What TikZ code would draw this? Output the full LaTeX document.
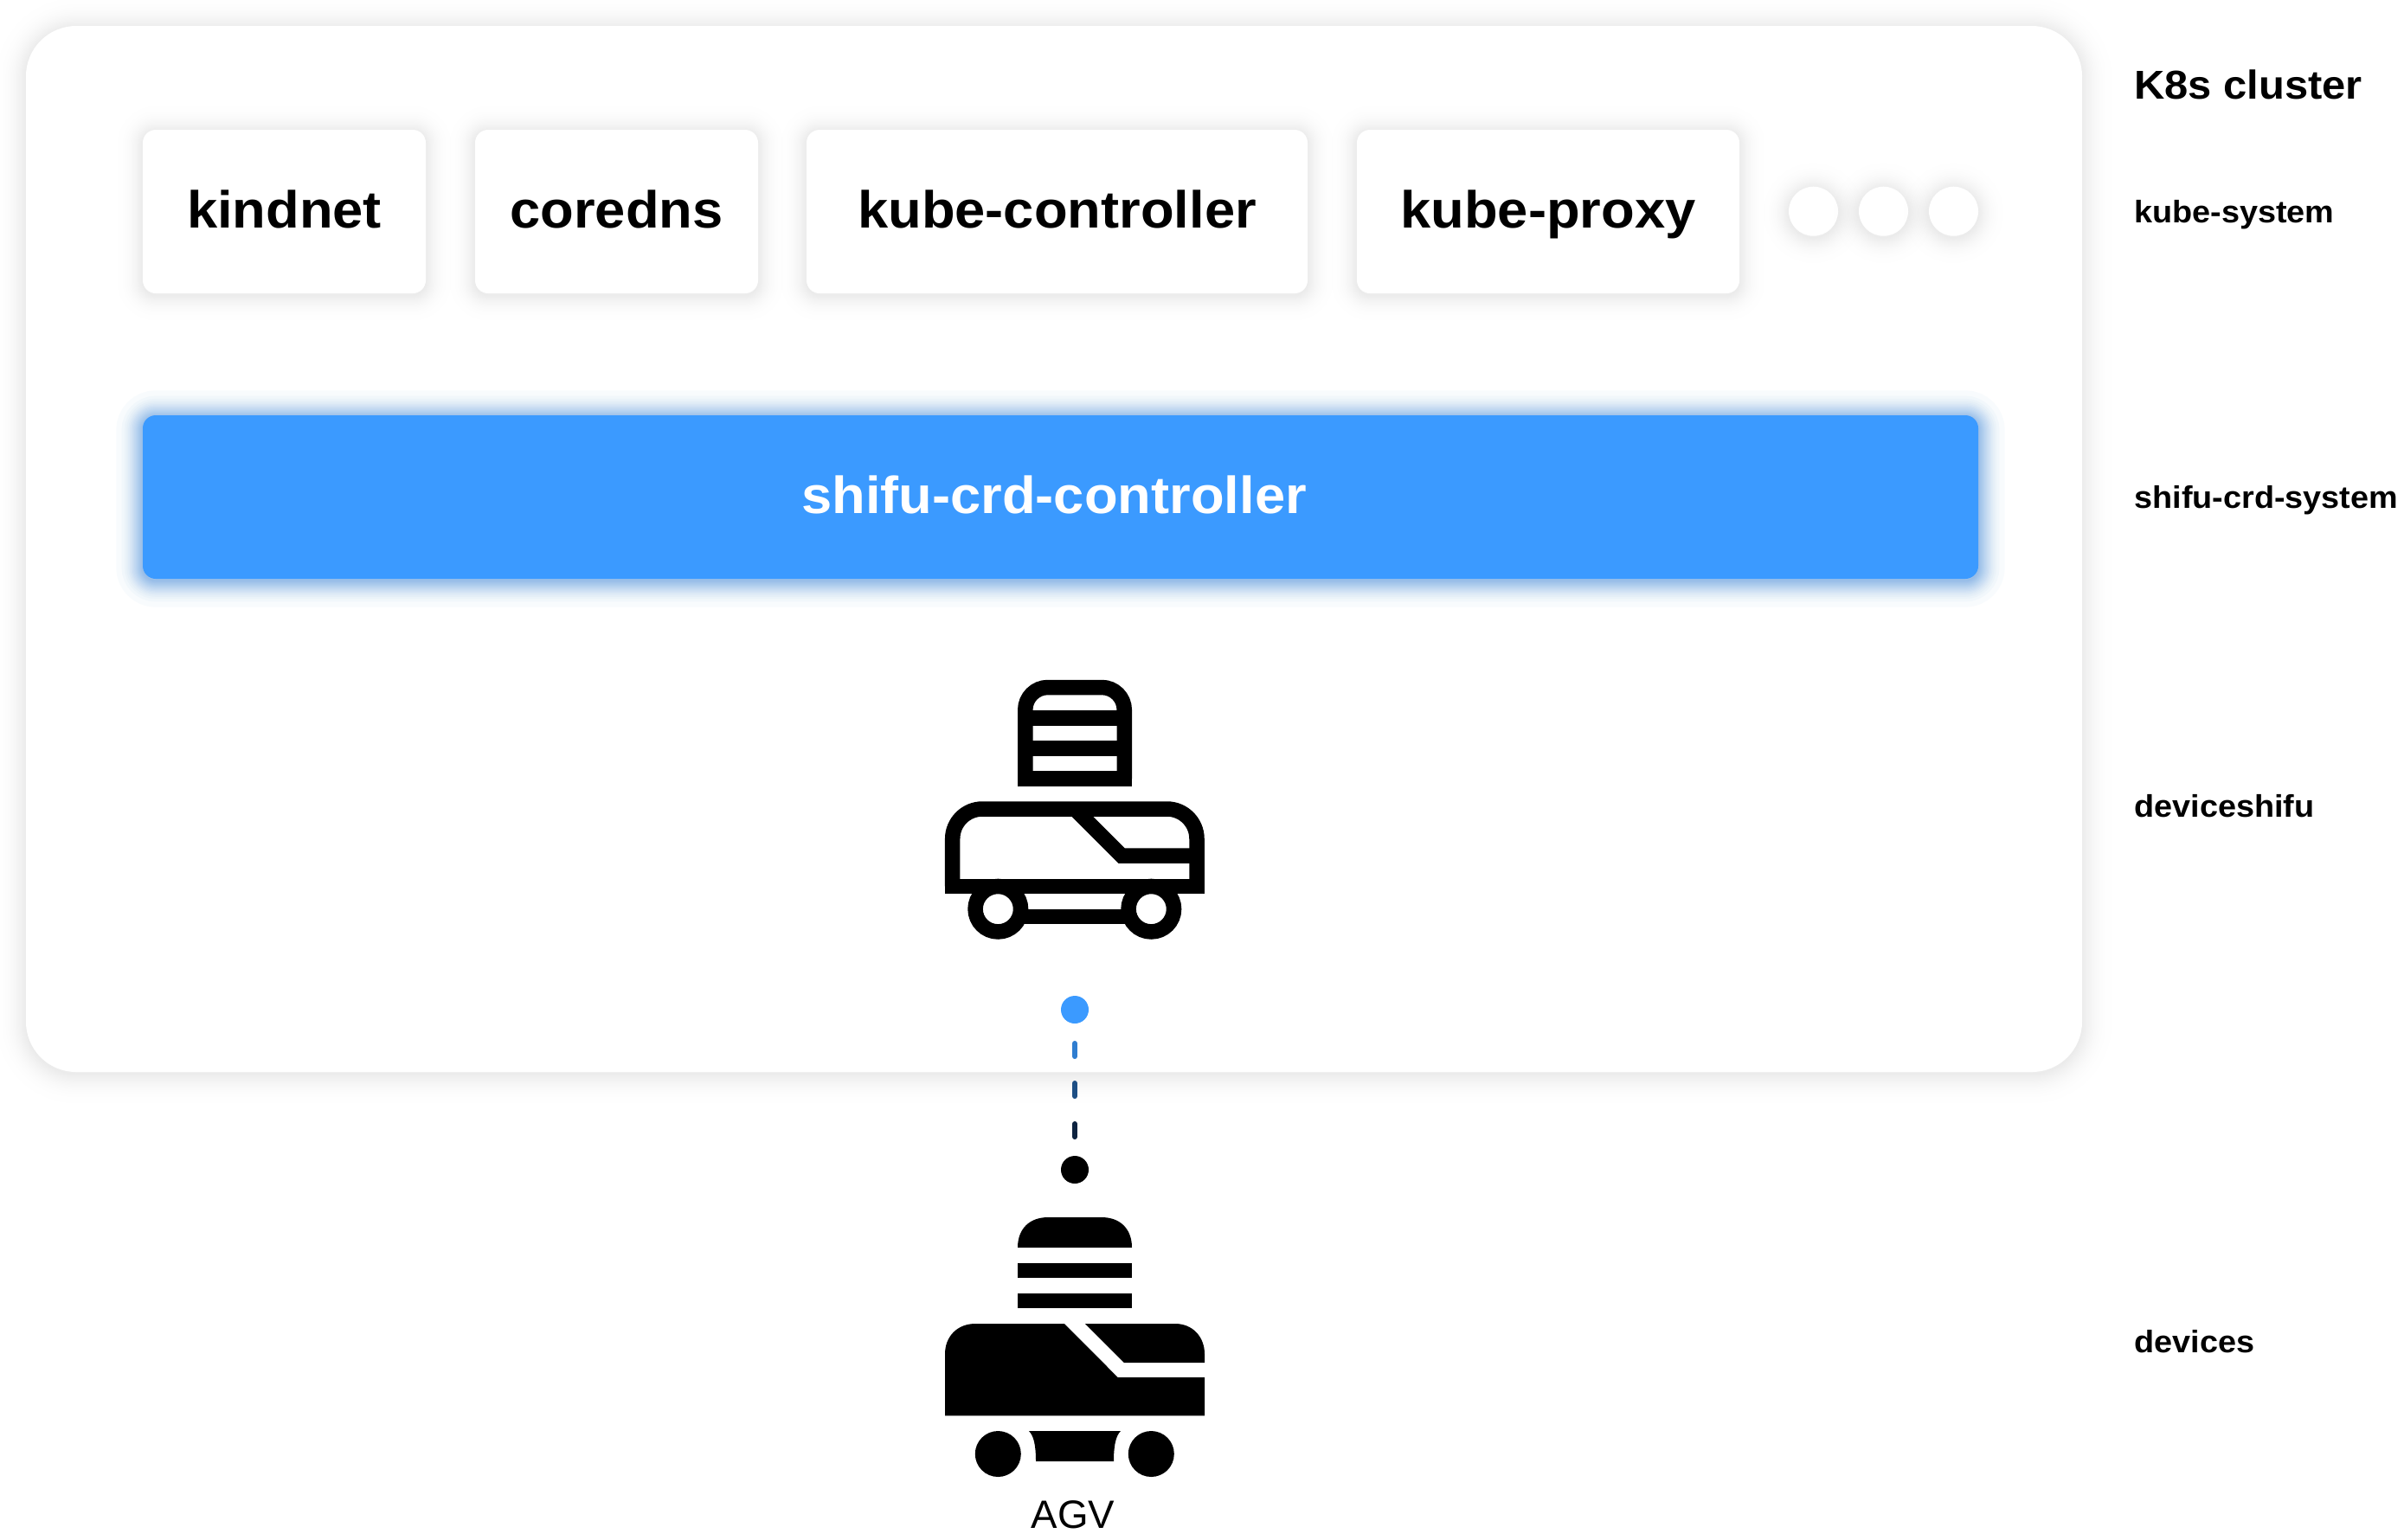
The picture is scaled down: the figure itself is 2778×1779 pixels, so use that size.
\documentclass[tikz,border=0pt]{standalone}
\usepackage{fontspec}
\setmainfont{Liberation Sans}
\newfontfamily\boldface[FakeStretch=1.05]{Liberation Sans Bold}
\usetikzlibrary{calc}
\definecolor{shifublue}{HTML}{3B9AFF}
\newcommand{\pxu}{0.02cm}
% soft shadow from widening strokes: corners, radius, look, spread
\newcommand{\softshadow}[5]{%
\foreach \s in {.7,2,3.5,4.8,6.3,7.8,9.2,10.8,12.3,14,15.7,17.6,19.6,21.6,24,26.6,30,33.7,39,49}
\draw[#4,line width=\s*#5*\pxu,rounded corners=#3*\pxu,yshift=-0.04cm] (#1) rectangle (#2);}
\tikzset{
 greyglow/.style={draw=black,draw opacity=.0048},
 blueglow/.style={draw=shifublue!85!black,draw opacity=.03},
 clusterbox/.style={fill=white,rounded corners=58*\pxu,inner sep=0pt,outer sep=0pt,minimum width=2376*\pxu,minimum height=1209*\pxu},
 cardbox/.style={fill=white,rounded corners=15*\pxu,inner sep=0pt,outer sep=0pt,minimum height=189*\pxu,text height=50*\pxu,text depth=12*\pxu,font=\boldface\fontsize{34.3}{40}\selectfont},
 morenode/.style={circle,fill=white,inner sep=0pt,outer sep=0pt,minimum size=57*\pxu},
 crdbox/.style={fill=shifublue,rounded corners=15*\pxu,inner sep=0pt,outer sep=0pt,minimum width=2121*\pxu,minimum height=189*\pxu},
 sidelabel/.style={anchor=base west,inner sep=0pt,font=\boldface\fontsize{20.5}{24}\selectfont},
 dotnode/.style={circle,inner sep=0pt,outer sep=0pt,minimum size=32*\pxu},
 iconline/.style={draw=black,line width=17.5*\pxu},
 linkdash/.style={line width=6*\pxu,line cap=round}
}
\begin{document}
\begin{tikzpicture}[x=0.02cm,y=-0.02cm]
\path[use as bounding box,fill=white] (0,0) rectangle (2778,1779);
%cluster
\softshadow{30,30}{2406,1239}{58}{greyglow}{1.4}
\node[clusterbox] (cluster) at (1218,634.5) {};
%kube-system row
\foreach \nam/\xa/\xb in {kindnet/165/492,coredns/549/876,kube-controller/932/1511,kube-proxy/1568/2010}{
\softshadow{\xa,150}{\xb,339}{15}{greyglow}{1.2}
\node[cardbox,minimum width={(\xb-\xa)*\pxu}] (\nam) at ({(\xa+\xb)/2},244.5) {\nam};
}
\foreach \x/\nam in {2095.5/moreA,2176.5/moreB,2257.5/moreC}{
\softshadow{\x-28.5,215.7}{\x+28.5,272.7}{28.5}{greyglow}{1.2}
\node[morenode] (\nam) at (\x,244.2) {};
}
%shifu-crd-controller
\softshadow{165,480}{2286,669}{15}{blueglow}{1.25}
\node[crdbox] (crd) at (1225.5,574.5) {};
\node[anchor=base,inner sep=0pt,text=white,font=\boldface\fontsize{34.3}{40}\selectfont] (crdtext) at (1218,593) {shifu-crd-controller};
%deviceshifu icon
\draw[iconline,rounded corners=26*\pxu] (1184.75,900) -- (1184.75,794.5) -- (1299.25,794.5) -- (1299.25,900);
\draw[iconline] (1176,900) -- (1308,900) (1184.75,830) -- (1299.25,830) (1184.75,865) -- (1299.25,865);
\draw[iconline] (1184,1059.5) -- (1300,1059.5);
\draw[iconline,rounded corners=34.5*\pxu] (1100.7,1024.3) -- (1100.7,935) -- (1383,935) -- (1383,1024.3);
\draw[iconline] (1092,1024.3) -- (1391.7,1024.3);
\draw[iconline] (1242,935) -- (1296,989) -- (1383,989);
\foreach \x in {1153.3,1330.3}
\draw[iconline,fill=white] (\x,1050.7) circle (26.25);
%link
\node[dotnode,fill=shifublue] (dotup) at (1242,1167) {};
\node[dotnode,fill=black] (dotdown) at (1242,1352) {};
\foreach \a/\b/\col in {23/115/2F7DD0,69/69/1D4F85,116/22/0D2340}{
\definecolor{linkcol}{HTML}{\col}
\draw[linkdash,linkcol,shorten <=\a*\pxu,shorten >=\b*\pxu] (dotup) -- (dotdown);
}
%device icon
\fill (1176,1442) .. controls (1176,1420) and (1190,1407) .. (1211,1407) -- (1273,1407) .. controls (1294,1407) and (1308,1420) .. (1308,1442) -- cycle;
\fill (1176,1459.5) rectangle (1308,1477);
\fill (1176,1495) rectangle (1308,1512.4);
\fill (1092,1636.4) -- (1092,1565) .. controls (1092,1545) and (1106,1530) .. (1127,1530) -- (1230,1530) -- (1291.7,1592) -- (1392,1592) -- (1392,1636.4) -- cycle;
\fill (1254,1530) -- (1358,1530) .. controls (1378,1530) and (1392,1545) .. (1392,1565) -- (1392,1575) -- (1299,1575) -- cycle;
\foreach \x in {1153.3,1330.3}
\fill (\x,1680.5) circle (26.5);
\fill (1189,1654) -- (1295,1654) .. controls (1289,1660) and (1287,1672) .. (1287,1689) -- (1197,1689) .. controls (1197,1672) and (1195,1660) .. (1189,1654) -- cycle;
\node[anchor=base,inner sep=0pt,font=\fontsize{26}{32}\selectfont] (agv) at (1240,1766) {AGV};
%side labels
\node[sidelabel,font=\boldface\fontsize{26.5}{30}\selectfont] (k8s) at (2466,114) {K8s cluster};
\node[sidelabel] (kubesys) at (2466,257) {kube-system};
\node[sidelabel] (crdsys) at (2466,587) {shifu-crd-system};
\node[sidelabel] (devshifu) at (2466,944) {deviceshifu};
\node[sidelabel] (devices) at (2466,1563) {devices};
\end{tikzpicture}
\end{document}
